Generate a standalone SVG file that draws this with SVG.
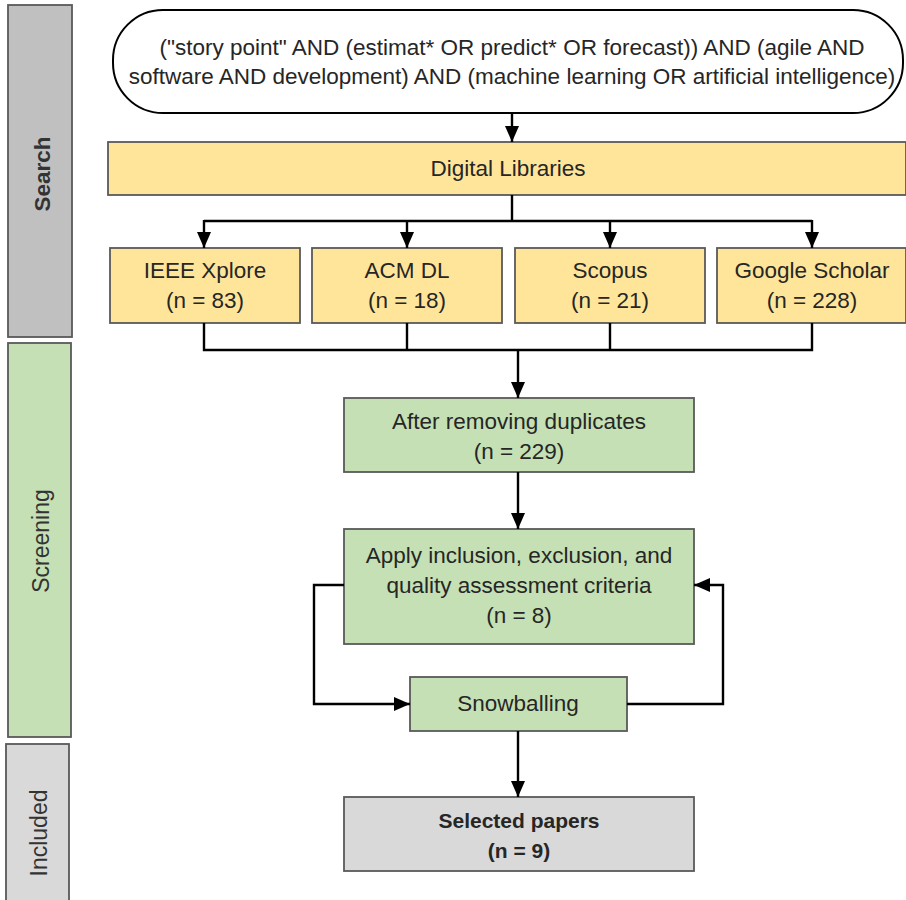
<svg xmlns="http://www.w3.org/2000/svg" width="906" height="900" viewBox="0 0 906 900">
<defs>
<marker id="ah" viewBox="0 0 16 14" refX="16" refY="7" markerWidth="16" markerHeight="14" markerUnits="userSpaceOnUse" orient="auto">
<path d="M0,0 L16,7 L0,14 Z" fill="#000"/>
</marker>
<style>
.box{stroke:#595959;stroke-width:1.8}
.y{fill:#ffe599}
.g{fill:#c5e0b4}
.gr{fill:#d9d9d9}
.t{font-family:"Liberation Sans",Arial,sans-serif;font-size:22.5px;fill:#262626;text-anchor:middle}
.b{font-weight:bold;font-size:21px}
.side{font-family:"Liberation Sans",Arial,sans-serif;font-size:23px;fill:#333;text-anchor:middle}
.sb{font-weight:bold;font-size:22.5px}
.c{fill:none;stroke:#000;stroke-width:2.4}
.ca{fill:none;stroke:#000;stroke-width:2.4;marker-end:url(#ah)}
</style>
</defs>
<rect width="906" height="900" fill="#fff"/>

<g id="lane-search">
<rect x="8" y="5" width="64" height="332" fill="#c0c0c0" class="box"/>
<text class="side sb" transform="translate(50,174) rotate(-90)">Search</text>
</g>
<g id="lane-screening">
<rect x="8" y="343" width="63" height="394" class="box g"/>
<text class="side" transform="translate(49,541) rotate(-90)">Screening</text>
</g>
<g id="lane-included">
<rect x="6" y="744" width="63" height="170" class="box gr"/>
<text class="side" transform="translate(47,833) rotate(-90)">Included</text>
</g>

<g id="query">
<rect x="113" y="10" width="790" height="103" rx="50" ry="50" fill="#fff" stroke="#000" stroke-width="2"/>
<text class="t" x="512" y="55">("story point" AND (estimat* OR predict* OR forecast)) AND (agile AND</text>
<text class="t" x="512" y="84">software AND development) AND (machine learning OR artificial intelligence)</text>
</g>

<g id="digital-libraries">
<rect x="108" y="142" width="798" height="53" class="box y"/>
<text class="t" x="508" y="176">Digital Libraries</text>
</g>

<g id="ieee">
<rect x="110" y="248" width="190" height="75" class="box y"/>
<text class="t" x="205" y="278">IEEE Xplore</text>
<text class="t" x="205" y="308">(n = 83)</text>
</g>
<g id="acm">
<rect x="312" y="248" width="190" height="75" class="box y"/>
<text class="t" x="407" y="278">ACM DL</text>
<text class="t" x="407" y="308">(n = 18)</text>
</g>
<g id="scopus">
<rect x="515" y="248" width="190" height="75" class="box y"/>
<text class="t" x="610" y="278">Scopus</text>
<text class="t" x="610" y="308">(n = 21)</text>
</g>
<g id="scholar">
<rect x="717" y="248" width="189" height="75" class="box y"/>
<text class="t" x="812" y="278">Google Scholar</text>
<text class="t" x="812" y="308">(n = 228)</text>
</g>

<g id="duplicates">
<rect x="344" y="398" width="350" height="74" class="box g"/>
<text class="t" x="519" y="429">After removing duplicates</text>
<text class="t" x="519" y="459">(n = 229)</text>
</g>

<g id="criteria">
<rect x="344" y="529" width="350" height="115" class="box g"/>
<text class="t" x="519" y="563">Apply inclusion, exclusion, and</text>
<text class="t" x="519" y="593">quality assessment criteria</text>
<text class="t" x="519" y="623">(n = 8)</text>
</g>

<g id="snowballing">
<rect x="410" y="677" width="217" height="54" class="box g"/>
<text class="t" x="518" y="711">Snowballing</text>
</g>

<g id="selected">
<rect x="344" y="797" width="350" height="74" class="box gr"/>
<text class="t b" x="519" y="828">Selected papers</text>
<text class="t b" x="519" y="858">(n = 9)</text>
</g>

<g id="connectors">
<path class="ca" d="M512,113 V142"/>
<path class="c" d="M512,195 V221 M204,221 H812"/>
<path class="ca" d="M204,220 V248"/>
<path class="ca" d="M407,220 V248"/>
<path class="ca" d="M610,220 V248"/>
<path class="ca" d="M812,220 V248"/>
<path class="c" d="M204,323 V350 H812 V323 M407,323 V350 M610,323 V350"/>
<path class="ca" d="M518,350 V398"/>
<path class="ca" d="M518,472 V529"/>
<path class="ca" d="M344,585 H314 V704 H410"/>
<path class="ca" d="M627,704 H723 V585 H694"/>
<path class="ca" d="M518,731 V797"/>
</g>
</svg>
